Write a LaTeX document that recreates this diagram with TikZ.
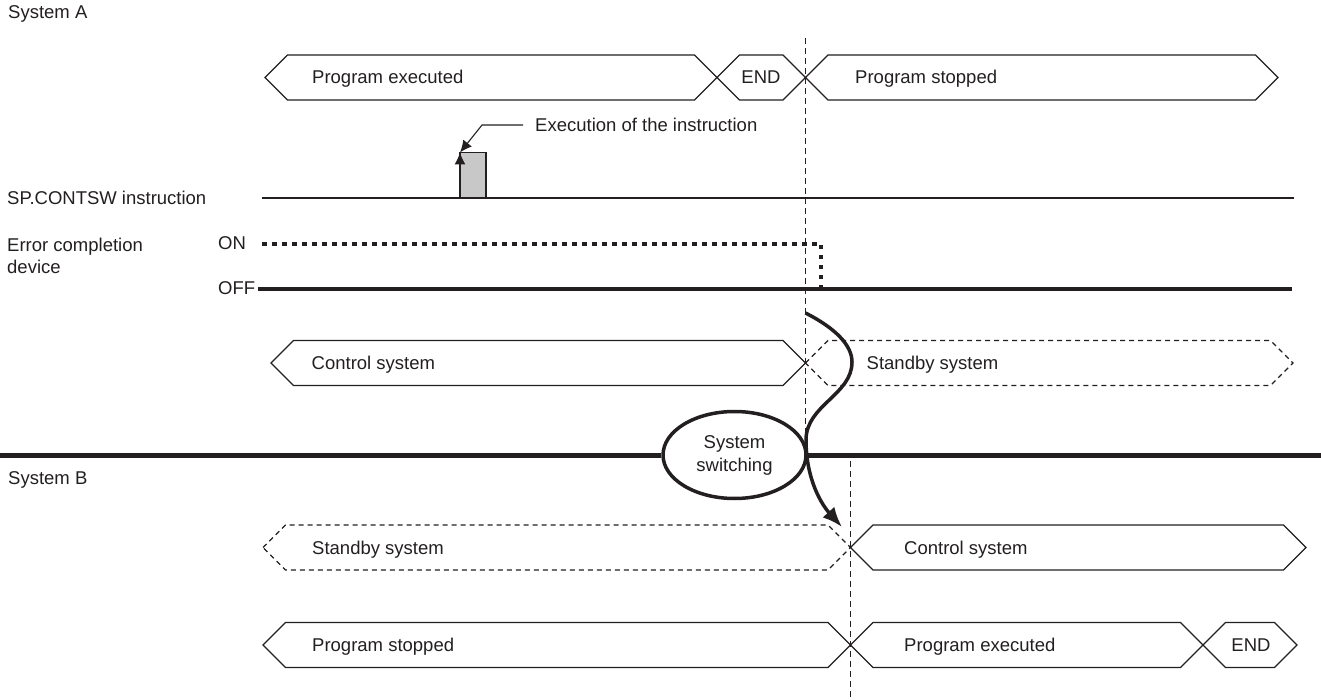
\documentclass[tikz,border=0pt]{standalone}
\usepackage{fontspec}
\setmainfont{Liberation Sans}
\usetikzlibrary{arrows.meta,shapes.geometric}
\definecolor{ink}{RGB}{35,31,32}
\definecolor{pulsegray}{RGB}{200,200,200}
\begin{document}
\begin{tikzpicture}[
  x=1pt, y=-1pt,
  every node/.style={font=\fontsize{18.5}{21.5}\selectfont, text=ink},
  lbl/.style={inner sep=0pt, text height=13pt, text depth=0pt},
  note/.style={inner sep=0pt, align=left},
  seg/.style={draw=ink, line width=1.1pt,
    to path={-- ++(22.5,-22.5) -- ([shift={(-22.5,-22.5)}]\tikztotarget)
      -- (\tikztotarget) -- ([shift={(-22.5,22.5)}]\tikztotarget)
      -- ([shift={(22.5,22.5)}]\tikztostart) -- cycle}},
  segdash/.style={seg, dash pattern=on 5pt off 4pt},
  cut/.style={draw=ink, line width=1pt, dash pattern=on 6pt off 4pt},
  sigline/.style={draw=ink, line width=1.1pt},
  offline/.style={draw=ink, line width=4pt},
  onlink/.style={draw=ink, line width=4pt, dash pattern=on 4.5pt off 5.5pt},
  split/.style={draw=ink, line width=5pt},
  pulse/.style={draw=ink, fill=pulsegray, line width=1.1pt},
  ptr/.style={draw=ink, line width=1.1pt, -{Latex[length=12pt,width=11pt]}},
  sw/.style={ellipse, draw=ink, line width=3.5pt, fill=white,
             minimum width=143pt, minimum height=87pt, inner sep=0pt,
             align=center, font=\fontsize{18.5}{23}\selectfont},
  swarrow/.style={draw=ink, line width=3.5pt, -{Latex[length=20pt,width=16pt]}}
]
  \useasboundingbox (0,0) rectangle (1321,700);

  % row titles
  \node[lbl, anchor=west] (sysa)    at (8,12)   {System A};
  \node[lbl, anchor=west] (sysb)    at (8,478)  {System B};
  \node[lbl, anchor=west] (spname)  at (7,198)  {SP.CONTSW instruction};
  \node[note, anchor=west] (errname) at (7,256) {Error completion\\device};
  \node[lbl, anchor=west] (on)      at (218,243) {ON};
  \node[lbl, anchor=west] (off)     at (218,288) {OFF};

  % switching instants
  \draw[cut] (805.5,38) -- (805.5,453);
  \draw[cut] (850.5,461) -- (850.5,700);

  % system A program
  \draw[seg] (265,77.5) to (717,77.5);
  \draw[seg] (717,77.5) to (805.5,77.5);
  \draw[seg] (805.5,77.5) to (1278,77.5);
  \node[lbl, anchor=west] (pexa) at (312,77.5) {Program executed};
  \node[lbl]              (enda) at (761,77.5) {END};
  \node[lbl, anchor=west] (psta) at (855,77.5) {Program stopped};

  % instruction pulse
  \draw[sigline] (262,198) -- (1294,198);
  \coordinate (hit) at (460,152.5);
  \filldraw[pulse] (460,198) rectangle (486,152.5);
  \draw[ptr] (460,198) -- (hit);
  \node[lbl, anchor=west] (exec) at (535,125) {Execution of the instruction};
  \draw[ptr, shorten <=12pt] (exec.west) -- ++(-53,0) -- (hit);

  % error completion device
  \draw[onlink] (262,244) -- (821,244) -- (821,287);
  \draw[offline] (258,289) -- (1292,289);

  % system A state
  \draw[seg] (271,363) to (805.5,363);
  \draw[segdash] (805.5,363) to (1293,363);
  \node[lbl, anchor=west] (ctla) at (311.5,363) {Control system};
  \node[lbl, anchor=west] (sbya) at (866.5,363) {Standby system};

  % system switching
  \node[sw] (sw) at (734.5,455) {System\\switching};
  \draw[split] (0,455) -- (sw.west);
  \draw[split] (sw.east) -- (1321,455);
  \coordinate (swfrom) at (805.5,313);
  \coordinate (swto) at (842,527);
  \draw[swarrow] (swfrom) .. controls (835,328) and (852,345) .. (852,362)
    .. controls (852,395) and (806,405) .. (806,440)
    .. controls (806,480) and (822,505) .. (swto);

  % system B state
  \draw[segdash] (263,547.5) to (850.5,547.5);
  \draw[seg] (850.5,547.5) to (1306,547.5);
  \node[lbl, anchor=west] (sbyb) at (312,547.5) {Standby system};
  \node[lbl, anchor=west] (ctlb) at (904,547.5) {Control system};

  % system B program
  \draw[seg] (263,645) to (850.5,645);
  \draw[seg] (850.5,645) to (1203,645);
  \draw[seg] (1203,645) to (1297,645);
  \node[lbl, anchor=west] (pstb) at (312,645)  {Program stopped};
  \node[lbl, anchor=west] (pexb) at (904,645)  {Program executed};
  \node[lbl]              (endb) at (1251,645) {END};
\end{tikzpicture}
\end{document}
